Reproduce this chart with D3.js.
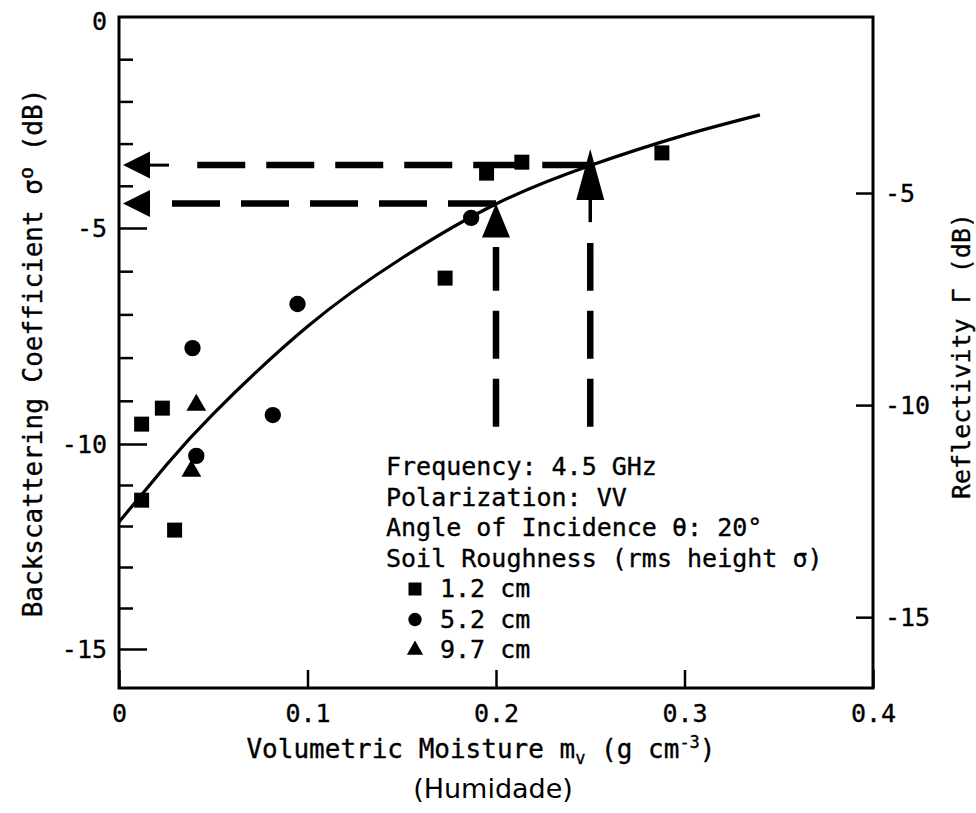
<!DOCTYPE html>
<html><head><meta charset="utf-8">
<script src="https://cdn.jsdelivr.net/npm/d3@7"></script>
<style>
body{margin:0;background:#fff;}
svg text{font-family:"DejaVu Sans Mono",monospace;fill:#000;stroke:#000;stroke-width:0.35px;}
</style></head><body>
<svg id="chart" width="976" height="813"></svg>
<script>
// ---- data ----
const squares   = [[0.012,-9.54],[0.023,-9.17],[0.012,-11.37],[0.0295,-12.10],[0.173,-6.16],[0.195,-3.70],[0.2137,-3.44],[0.288,-3.22]];
const circles   = [[0.039,-7.78],[0.041,-10.29],[0.0816,-9.33],[0.0947,-6.76],[0.1868,-4.76]];
const triangles = [[0.041,-9.10],[0.0384,-10.66]];
const fitCurve  = [[0,-11.9],[0.025,-10.52],[0.05,-9.3],[0.1,-7.28],[0.15,-5.7],[0.2,-4.43],[0.25,-3.52],[0.3,-2.8],[0.34,-2.32]];
const xTicks = [0,0.1,0.2,0.3,0.4];
const xTickLabels = ["0","0.1","0.2","0.3","0.4"];
const yMajorTicks = [0,-5,-10,-15];
const yMinorTicks = [-1,-2,-3,-4,-6,-7,-8,-9,-11,-12,-13,-14];
const rightTicks = [-5,-10,-15];
const moistureMarks = [0.2, 0.25];
const sigmaMarks = [-4.42, -3.51];
const arrowStartSigma = -9.6;
const infoLines = ["Frequency: 4.5 GHz","Polarization: VV","Angle of Incidence θ: 20°","Soil Roughness (rms height σ)"];
const legendLabels = ["1.2 cm","5.2 cm","9.7 cm"];

const svg = d3.select("#chart");
const x = d3.scaleLinear().domain([0,0.4]).range([119,873]);
const y = d3.scaleLinear().domain([-16,-15,-10,-5,0]).range([688,649,444,228,17]);
const yR = d3.scaleLinear().domain([-16.67,-0.85]).range([688,17]);
const X0 = x(0), X1 = x(0.4), Y0 = y(0), Y1 = y(-16);

// axes
const gxa = svg.append("g").attr("transform",`translate(0,${Y1})`)
  .call(d3.axisBottom(x).tickValues(xTicks).tickFormat((d,i)=>xTickLabels[i]).tickSize(-18).tickPadding(16));
const gya = svg.append("g").attr("transform",`translate(${X0},0)`)
  .call(d3.axisLeft(y).tickValues(yMajorTicks).tickFormat(d=>String(d)).tickSize(-28).tickPadding(12));
const gym = svg.append("g").attr("transform",`translate(${X0},0)`)
  .call(d3.axisLeft(y).tickValues(yMinorTicks).tickFormat("").tickSize(-14));
const gyr = svg.append("g").attr("transform",`translate(${X1},0)`)
  .call(d3.axisRight(yR).tickValues(rightTicks).tickFormat(d=>String(d)).tickSize(-17).tickPadding(12));
[gxa,gya,gym,gyr].forEach(g=>{
  g.select(".domain").remove();
  g.selectAll(".tick line").attr("stroke","#000").attr("stroke-width",2.5);
  g.selectAll(".tick text").attr("font-size",25).attr("font-family","DejaVu Sans Mono");
});
gya.selectAll(".tick").filter(d=>d===0).select("line").remove();
gya.selectAll(".tick").filter(d=>d===0).select("text").attr("dy","0.5em");

// frame
svg.append("rect").attr("x",X0).attr("y",Y0).attr("width",X1-X0).attr("height",Y1-Y0)
  .attr("fill","none").attr("stroke","#000").attr("stroke-width",3);

// fitted curve
svg.append("path").datum(fitCurve)
  .attr("d",d3.line().x(d=>x(d[0])).y(d=>y(d[1])).curve(d3.curveNatural))
  .attr("fill","none").attr("stroke","#000").attr("stroke-width",3.2);

// points
function pts(data, type, size){
  svg.append("g").selectAll("path").data(data).join("path")
    .attr("transform",d=>`translate(${x(d[0])},${y(d[1])})`)
    .attr("d",d3.symbol().type(type).size(size)).attr("fill","#000");
}
pts(squares, d3.symbolSquare, 225);
pts(circles, d3.symbolCircle, 210);
pts(triangles, d3.symbolTriangle, 170);

// retrieval arrows
const dash = "48,21";
const hEnds = [X0+46, X0+74];
moistureMarks.forEach((m,i)=>{
  const yy = y(sigmaMarks[i]);
  svg.append("line").attr("x1",x(m)).attr("x2",hEnds[i]).attr("y1",yy).attr("y2",yy)
    .attr("stroke","#000").attr("stroke-width",6.5).attr("stroke-dasharray",dash);
  if(i===1) svg.append("line").attr("x1",X0+30).attr("x2",X0+50).attr("y1",yy).attr("y2",yy)
    .attr("stroke","#000").attr("stroke-width",3);
  svg.append("path").attr("d",`M${X0+4},${yy} L${X0+31},${yy-13.5} L${X0+31},${yy+13.5} Z`).attr("fill","#000");
});
const vTop = [247, 243];
const tipOff = [0, 16];
const headH = [34, 51];
moistureMarks.forEach((m,i)=>{
  const xx = x(m), ys = y(arrowStartSigma), yc = y(sigmaMarks[i]);
  svg.append("line").attr("x1",xx).attr("x2",xx).attr("y1",ys).attr("y2",vTop[i])
    .attr("stroke","#000").attr("stroke-width",6.5).attr("stroke-dasharray","48,20");
  const tip = yc - tipOff[i], base = tip + headH[i];
  if(i===1) svg.append("line").attr("x1",xx).attr("x2",xx).attr("y1",base-2).attr("y2",base+22)
    .attr("stroke","#000").attr("stroke-width",3.5);
  svg.append("path").attr("d",`M${xx},${tip} L${xx-14},${base} L${xx+14},${base} Z`).attr("fill","#000");
});

// info + legend
const info = svg.append("g").attr("font-size",25);
infoLines.forEach((t,i)=>info.append("text").attr("x",386).attr("y",475+i*30.7).text(t));
const legTypes = [[d3.symbolSquare,169],[d3.symbolCircle,140],[d3.symbolTriangle,115]];
legendLabels.forEach((t,i)=>{
  const yy = 597+i*30.5;
  svg.append("path").attr("transform",`translate(415,${yy-8})`)
    .attr("d",d3.symbol().type(legTypes[i][0]).size(legTypes[i][1])).attr("fill","#000");
  svg.append("text").attr("x",440).attr("y",yy).attr("font-size",25).text(t);
});

// titles
const xt = svg.append("text").attr("x",481).attr("y",758).attr("text-anchor","middle").attr("font-size",26);
xt.append("tspan").text("Volumetric Moisture m");
xt.append("tspan").attr("font-size",17).attr("dy",6).text("v");
xt.append("tspan").attr("dy",-6).text(" (g cm");
xt.append("tspan").attr("font-size",17).attr("dy",-10).text("-3");
xt.append("tspan").attr("dy",10).text(")");

const yt = svg.append("text").attr("transform","translate(42,353) rotate(-90)").attr("text-anchor","middle").attr("font-size",26);
yt.append("tspan").text("Backscattering Coefficient σ");
yt.append("tspan").attr("font-size",20).attr("dy",-9).text("o");
yt.append("tspan").attr("dy",9).text(" (dB)");

svg.append("text").attr("transform","translate(970,356) rotate(-90)").attr("text-anchor","middle")
  .attr("font-size",25).text("Reflectivity Γ (dB)");

svg.append("text").attr("x",493).attr("y",798).attr("text-anchor","middle")
  .style("font-family","'DejaVu Sans',Verdana,sans-serif").style("stroke","none")
  .attr("font-size",27).text("(Humidade)");
</script>
</body></html>
